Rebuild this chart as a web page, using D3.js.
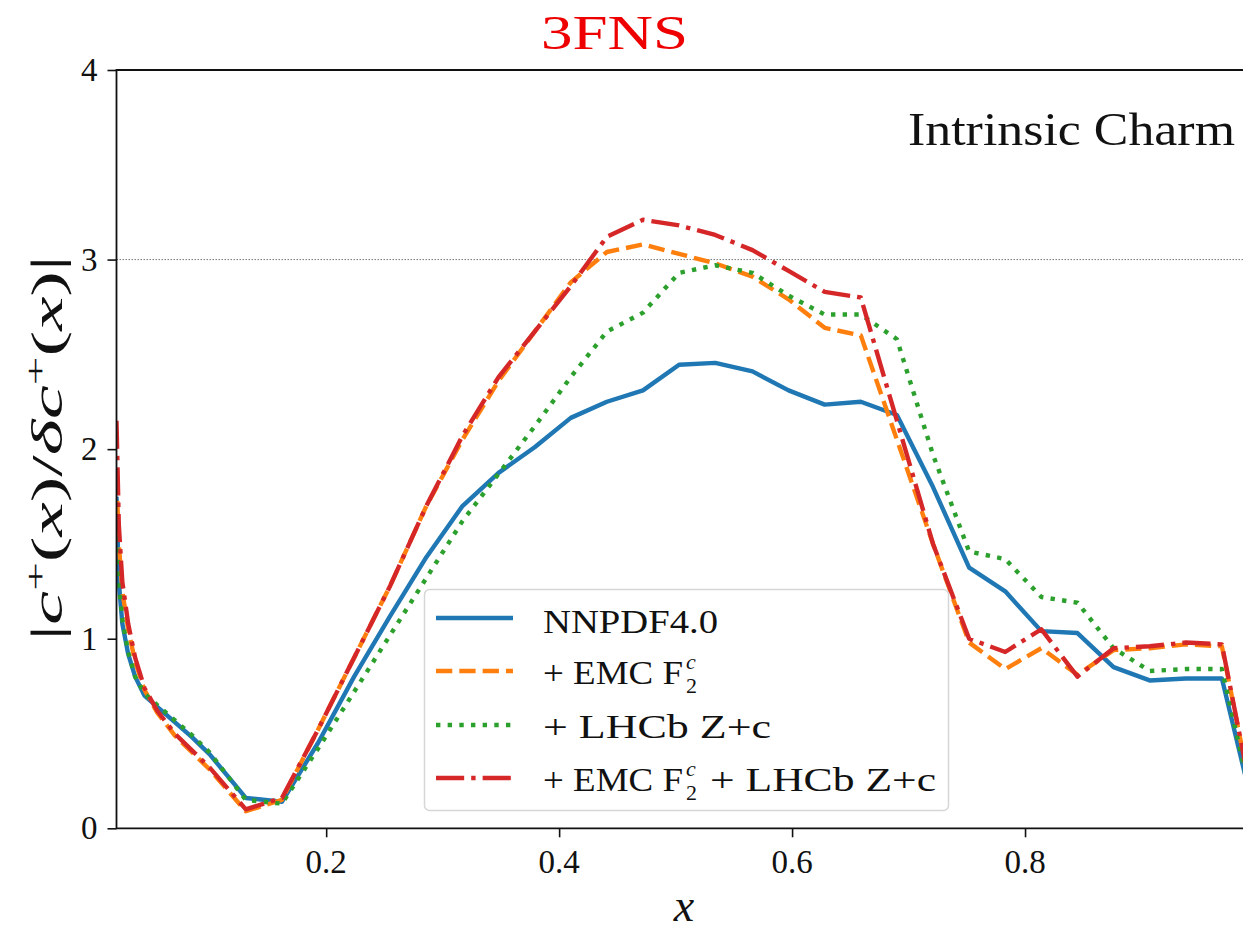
<!DOCTYPE html>
<html>
  <head>
    <title>Intrinsic Charm 3FNS</title>
    <script src="https://d3js.org/d3.v7.min.js"></script>
    <style>
      body { margin: 0; background: #fff; }
      text { font-family: "Liberation Serif", "DejaVu Serif", serif; fill: #111; }
    </style>
  </head>
  <body>
    <svg width="1243" height="931"></svg>
    <script>
      // x grid (small-x points, then a linear grid up to 1)
      const xGrid = [0.02, 0.022, 0.025, 0.03, 0.036, 0.044, 0.055, 0.07, 0.085, 0.1,
        0.131, 0.162, 0.193, 0.224, 0.255, 0.286, 0.317, 0.348, 0.379, 0.410,
        0.441, 0.472, 0.503, 0.534, 0.566, 0.597, 0.628, 0.659, 0.690, 0.721,
        0.752, 0.783, 0.814, 0.845, 0.876, 0.907, 0.938, 0.969, 1.0];

      const nnpdf = [1.75, 1.30, 1.08, 0.92, 0.80, 0.70, 0.64, 0.56, 0.48, 0.39,
        0.16, 0.14, 0.45, 0.80, 1.12, 1.43, 1.70, 1.875, 2.01, 2.165,
        2.25, 2.31, 2.445, 2.455, 2.41, 2.31, 2.235, 2.25, 2.18, 1.80,
        1.375, 1.25, 1.04, 1.03, 0.85, 0.78, 0.79, 0.79, 0.0];

      const emc = [1.85, 1.5, 1.25, 1.05, 0.88, 0.73, 0.61, 0.49, 0.40, 0.31,
        0.09, 0.15, 0.52, 0.90, 1.28, 1.70, 2.05, 2.36, 2.62, 2.88,
        3.04, 3.08, 3.03, 2.98, 2.91, 2.79, 2.64, 2.60, 2.05, 1.50,
        0.98, 0.84, 0.95, 0.81, 0.94, 0.95, 0.97, 0.96, 0.0];

      const lhcb = [1.6, 1.3, 1.1, 0.93, 0.80, 0.71, 0.65, 0.57, 0.49, 0.40,
        0.15, 0.13, 0.42, 0.72, 1.02, 1.32, 1.62, 1.87, 2.12, 2.38,
        2.62, 2.72, 2.93, 2.97, 2.93, 2.81, 2.71, 2.71, 2.58, 1.97,
        1.46, 1.42, 1.22, 1.19, 0.95, 0.83, 0.84, 0.84, 0.0];

      const emcLhcb = [2.15, 1.6, 1.3, 1.08, 0.90, 0.74, 0.62, 0.50, 0.41, 0.32,
        0.10, 0.16, 0.52, 0.90, 1.28, 1.70, 2.07, 2.38, 2.62, 2.86,
        3.12, 3.21, 3.18, 3.13, 3.05, 2.94, 2.83, 2.80, 2.15, 1.50,
        1.00, 0.93, 1.05, 0.80, 0.95, 0.96, 0.98, 0.97, 0.0];

      const xTicks = [0.2, 0.4, 0.6, 0.8];
      const yTicks = [0, 1, 2, 3, 4];

      const lw = 4.4;
      const series = [
        {values: nnpdf, color: "#1f77b4", dash: null},
        {values: emc, color: "#ff7f0e", dash: [3.7 * lw, 1.6 * lw].join(",")},
        {values: lhcb, color: "#2ca02c", dash: [1 * lw, 1.65 * lw].join(",")},
        {values: emcLhcb, color: "#d62728", dash: [6.4 * lw, 1.6 * lw, 1 * lw, 1.6 * lw].join(",")}
      ];

      const svg = d3.select("svg");
      const plotLeft = 116.5, plotTop = 70, plotBottom = 828.3, plotRight = 1258;

      const xScale = d3.scaleLinear().domain([0.02, 1.0]).range([plotLeft, plotRight]);
      const yScale = d3.scaleLinear().domain([0, 4]).range([plotBottom, plotTop]);

      // stretch a text horizontally (in its own frame) to a target width
      function fitWidth(sel, target, anchorX) {
        const w = sel.node().getBBox().width;
        const k = target / w;
        const prev = sel.attr("transform") || "";
        sel.attr("transform", `${prev} translate(${anchorX},0) scale(${k},1) translate(${-anchorX},0)`);
      }

      svg.append("clipPath").attr("id", "plot")
        .append("rect")
          .attr("x", plotLeft).attr("y", plotTop)
          .attr("width", plotRight - plotLeft).attr("height", plotBottom - plotTop);

      // reference line at 3
      svg.append("line")
        .attr("x1", plotLeft).attr("x2", plotRight)
        .attr("y1", yScale(3)).attr("y2", yScale(3))
        .attr("stroke", "#777").attr("stroke-width", 1)
        .attr("stroke-dasharray", "1.5,1.5");

      const line = d3.line()
        .x((d, i) => xScale(xGrid[i]))
        .y(d => yScale(d));

      const curves = svg.append("g").attr("clip-path", "url(#plot)");
      series.forEach(s => {
        curves.append("path")
          .attr("d", line(s.values))
          .attr("fill", "none")
          .attr("stroke", s.color)
          .attr("stroke-width", lw)
          .attr("stroke-linejoin", "round")
          .attr("stroke-dasharray", s.dash);
      });

      // axes: tick marks from d3, labels placed explicitly
      const xAxis = svg.append("g")
        .attr("transform", `translate(0,${plotBottom})`)
        .call(d3.axisBottom(xScale).tickValues(xTicks).tickSize(9).tickFormat(""));
      const yAxis = svg.append("g")
        .attr("transform", `translate(${plotLeft},0)`)
        .call(d3.axisLeft(yScale).tickValues(yTicks).tickSize(9).tickFormat(""));
      [xAxis, yAxis].forEach(a => {
        a.select(".domain").remove();
        a.selectAll(".tick line").attr("stroke", "#111").attr("stroke-width", 1.6);
      });

      svg.append("g").selectAll("text").data(xTicks).join("text")
        .attr("x", d => xScale(d))
        .attr("y", plotBottom + 45)
        .attr("text-anchor", "middle")
        .attr("font-size", 33)
        .text(d3.format(".1f"));
      svg.append("g").selectAll("text").data(yTicks).join("text")
        .attr("x", plotLeft - 19)
        .attr("y", d => yScale(d) + 11)
        .attr("text-anchor", "end")
        .attr("font-size", 33)
        .text(d3.format("d"));

      // spines
      svg.append("path")
        .attr("d", `M${plotRight},${plotTop}H${plotLeft}V${plotBottom}H${plotRight}`)
        .attr("fill", "none").attr("stroke", "#111").attr("stroke-width", 1.8);

      // title and annotation
      svg.append("text")
        .attr("x", 541).attr("y", 49)
        .attr("font-size", 49)
        .attr("textLength", 147).attr("lengthAdjust", "spacingAndGlyphs")
        .style("fill", "#ee0000")
        .text("3FNS");

      svg.append("text")
        .attr("x", 908).attr("y", 145)
        .attr("font-size", 47)
        .attr("textLength", 327).attr("lengthAdjust", "spacingAndGlyphs")
        .text("Intrinsic Charm");

      // axis labels
      svg.append("text")
        .attr("x", 684).attr("y", 921)
        .attr("text-anchor", "middle")
        .attr("font-size", 46)
        .attr("font-style", "italic")
        .text("x");

      const yl = svg.append("text")
        .attr("transform", "translate(62,448) rotate(-90)")
        .attr("x", 0).attr("y", 0)
        .attr("text-anchor", "middle")
        .attr("font-size", 44);
      yl.append("tspan").text("|");
      yl.append("tspan").attr("font-style", "italic").text("c");
      yl.append("tspan").attr("font-size", 29).attr("dy", -17).text("+");
      yl.append("tspan").attr("dy", 17).text("(");
      yl.append("tspan").attr("font-style", "italic").text("x");
      yl.append("tspan").text(")/");
      yl.append("tspan").attr("font-style", "italic").text("δc");
      yl.append("tspan").attr("font-size", 29).attr("dy", -17).text("+");
      yl.append("tspan").attr("dy", 17).text("(");
      yl.append("tspan").attr("font-style", "italic").text("x");
      yl.append("tspan").text(")|");
      fitWidth(yl, 385, 0);

      // legend
      const lg = svg.append("g");
      lg.append("rect")
        .attr("x", 424.5).attr("y", 589.5)
        .attr("width", 524).attr("height", 221)
        .attr("rx", 5)
        .attr("fill", "#fff").attr("fill-opacity", 0.85)
        .attr("stroke", "#d6d6d6").attr("stroke-width", 1.5);

      const rowY = [618, 671, 725, 778];
      series.forEach((s, i) => {
        lg.append("line")
          .attr("x1", 436).attr("x2", 513)
          .attr("y1", rowY[i]).attr("y2", rowY[i])
          .attr("stroke", s.color).attr("stroke-width", lw)
          .attr("stroke-dasharray", s.dash);
      });

      function plainText(x, y, str, width) {
        return lg.append("text").attr("x", x).attr("y", y).attr("font-size", 34)
          .attr("textLength", width).attr("lengthAdjust", "spacingAndGlyphs")
          .text(str);
      }
      function f2c(x, y) {
        lg.append("text").attr("x", x).attr("y", y - 15).attr("font-size", 22)
          .attr("font-style", "italic").text("c");
        lg.append("text").attr("x", x).attr("y", y + 9).attr("font-size", 22).text("2");
      }
      plainText(543, rowY[0] + 15, "NNPDF4.0", 175);
      plainText(543, rowY[1] + 13, "+ EMC F", 140);
      f2c(686, rowY[1] + 13);
      plainText(543, rowY[2] + 13, "+ LHCb Z+c", 228);
      plainText(543, rowY[3] + 13, "+ EMC F", 140);
      f2c(686, rowY[3] + 13);
      plainText(710, rowY[3] + 13, "+ LHCb Z+c", 226);
    </script>
  </body>
</html>
